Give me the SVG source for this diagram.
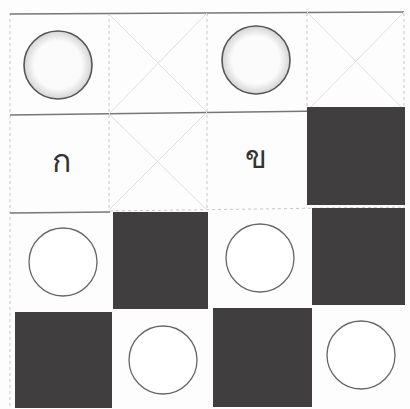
<svg xmlns="http://www.w3.org/2000/svg" width="410" height="409" viewBox="0 0 410 409">
<style>
.dark{fill:#403e3e}
.ring{fill:#fff;stroke:#666;stroke-width:1.3}
.sring{fill:url(#g);stroke:#555;stroke-width:1.6}
.grid{stroke:#c8c8c8;stroke-width:1;stroke-dasharray:3 3;fill:none}
.solid{stroke:#777;stroke-width:1.5}
.cross{stroke:#e0e0e0;stroke-width:1}
.lbl{font-family:"Noto Sans","DejaVu Sans",sans-serif;font-size:32px;fill:#333;text-anchor:middle}
</style>
<defs>
<radialGradient id="g" cx="0.5" cy="0.5" r="0.5">
<stop offset="0.7" stop-color="#fbfbfb"/>
<stop offset="1" stop-color="#d4d4d4"/>
</radialGradient>
</defs>
<rect width="410" height="409" fill="#fdfdfd"/>
<g id="connectors">
<line class="grid" x1="10" y1="13" x2="10" y2="407"/>
<line class="grid" x1="109" y1="13" x2="109" y2="210"/>
<line class="grid" x1="207" y1="13" x2="207" y2="210"/>
<line class="grid" x1="307" y1="13" x2="307" y2="110"/>
<line class="grid" x1="404" y1="13" x2="404" y2="210"/>
<line class="solid" x1="10" y1="14" x2="404" y2="12"/>
<line class="solid" x1="10" y1="115" x2="404" y2="110"/>
<line class="solid" x1="10" y1="213" x2="110" y2="212"/>
<line class="grid" x1="110" y1="211" x2="404" y2="207"/>
<line class="cross" x1="109" y1="14" x2="207" y2="112"/>
<line class="cross" x1="207" y1="13" x2="109" y2="114"/>
<line class="cross" x1="307" y1="12" x2="404" y2="110"/>
<line class="cross" x1="404" y1="12" x2="307" y2="111"/>
<line class="cross" x1="109" y1="114" x2="207" y2="210"/>
<line class="cross" x1="207" y1="112" x2="109" y2="210"/>
</g>
<g id="r0c0"><circle class="sring" cx="58" cy="65" r="34"/></g>
<g id="r0c2"><circle class="sring" cx="256" cy="60" r="34"/></g>
<g id="r1c0"><text class="lbl" x="61" y="172">ก</text></g>
<g id="r1c2"><text class="lbl" x="256" y="168">ข</text></g>
<g id="r1c3"><rect class="dark" x="307" y="107" width="98" height="98"/></g>
<g id="r2c0"><circle class="ring" cx="63" cy="262" r="34"/></g>
<g id="r2c1"><rect class="dark" x="113" y="212" width="95" height="97"/></g>
<g id="r2c2"><circle class="ring" cx="260" cy="258" r="34"/></g>
<g id="r2c3"><rect class="dark" x="312" y="208" width="93" height="97"/></g>
<g id="r3c0"><rect class="dark" x="15" y="312" width="97" height="96"/></g>
<g id="r3c1"><circle class="ring" cx="163" cy="360" r="34"/></g>
<g id="r3c2"><rect class="dark" x="213" y="308" width="99" height="99"/></g>
<g id="r3c3"><circle class="ring" cx="361" cy="355" r="34"/></g>
</svg>
